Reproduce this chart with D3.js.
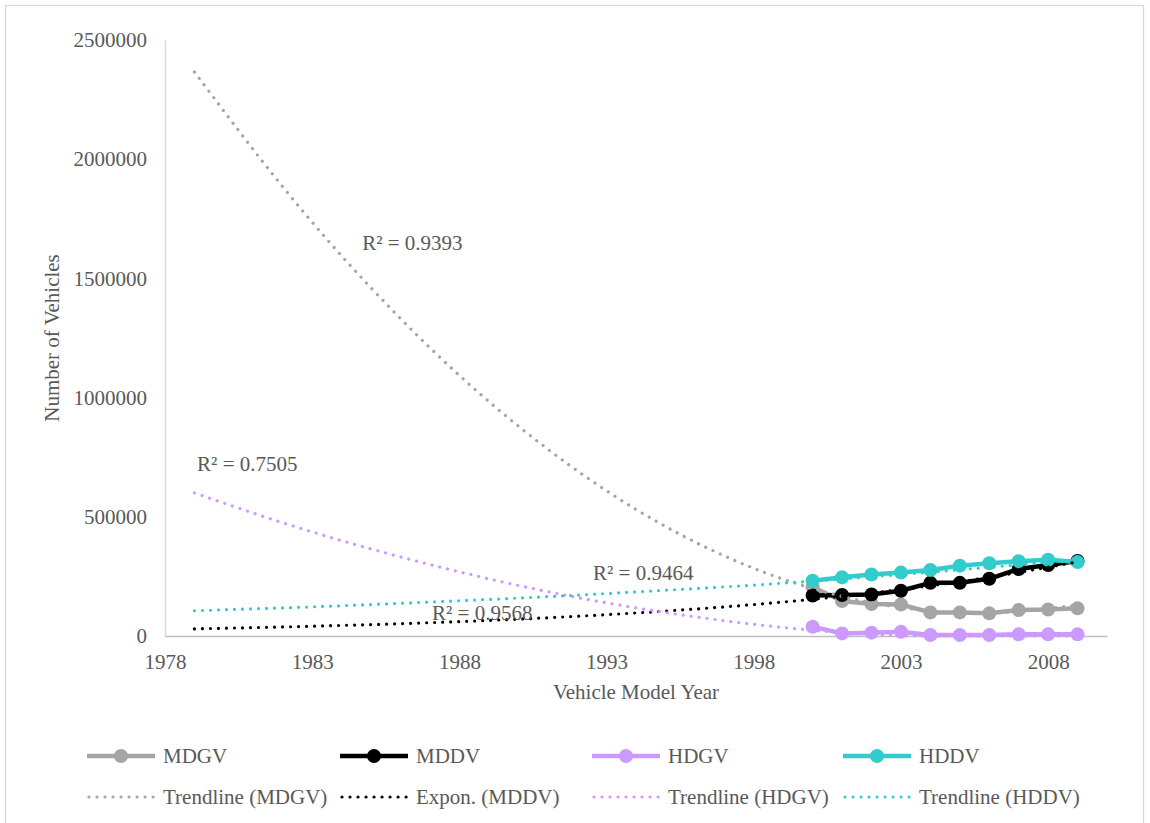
<!DOCTYPE html>
<html>
<head>
<meta charset="utf-8">
<script src="https://cdn.jsdelivr.net/npm/d3@7"></script>
<style>
  body { margin: 0; background: #fff; }
  svg text { font-family: 'Times New Roman', 'Liberation Serif', Times, 'DejaVu Serif', serif !important; fill: #595959; }
</style>
</head>
<body>
<svg id="chart" width="1150" height="823"></svg>
<script>
// Vehicle counts by model year
const years = [2000, 2001, 2002, 2003, 2004, 2005, 2006, 2007, 2008, 2009];
const mdgv  = [205000, 147000, 134000, 132000, 99000, 99000, 95000, 109000, 111000, 116000];
const mddv  = [170000, 172000, 174000, 190000, 223000, 223000, 240000, 281000, 298000, 315000];
const hdgv  = [39000, 11000, 14000, 18000, 4000, 4000, 4000, 7000, 7000, 7000];
const hddv  = [232000, 246000, 258000, 266000, 277000, 295000, 305000, 314000, 320000, 310000];

// Fitted trendlines, backcast to 1979
const trendYears = [1979, 1982, 1985, 1988, 1991, 1994, 1997, 2000, 2003, 2006, 2009];
const trendMDGV  = [2366000, 1884000, 1460000, 1093000, 784000, 531000, 336000, 199000, 119000, 96000, 130000];
const trendMDDV  = [30000, 38000, 48000, 60500, 76500, 96700, 122000, 154000, 195000, 246500, 311000];
const trendHDGV  = [600000, 475000, 365000, 269000, 186000, 118000, 64000, 24000, 2000, 0, 0];
const trendHDDV  = [106000, 118000, 132000, 148000, 165000, 185000, 206000, 230000, 258000, 288000, 321000];

const seriesNames = ["MDGV", "MDDV", "HDGV", "HDDV"];
const trendNames  = ["Trendline (MDGV)", "Expon. (MDDV)", "Trendline (HDGV)", "Trendline (HDDV)"];
const rSquared    = ["R² = 0.9393", "R² = 0.9568", "R² = 0.7505", "R² = 0.9464"];

const xTicks = [1978, 1983, 1988, 1993, 1998, 2003, 2008];
const yTicks = [0, 500000, 1000000, 1500000, 2000000, 2500000];

const colors = ["#a5a5a5", "#000000", "#cc99ff", "#33cccc"];
const seriesValues = [mdgv, mddv, hdgv, hddv];
const trendValues  = [trendMDGV, trendMDDV, trendHDGV, trendHDDV];

// where each R² label sits, in data units (year, count)
const rAnchor = [[1984.7, 1649000], [1987.07, 96500], [1979.09, 721500], [1992.54, 264000]];

const svg = d3.select("#chart");
const FONT = 21;
const SERIF = "'Times New Roman', 'Liberation Serif', Times, 'DejaVu Serif', serif";

// chart frame
svg.append("rect")
  .attr("x", 5.5).attr("y", 5.5).attr("width", 1138).attr("height", 840)
  .attr("fill", "#fff").attr("stroke", "#d9d9d9").attr("stroke-width", 1.3);

const x = d3.scaleLinear().domain([1978, 2010]).range([165, 1107]);
const y = d3.scaleLinear().domain([0, 2500000]).range([636, 40]);

// y axis
const gy = svg.append("g").attr("transform", "translate(165,0)")
  .call(d3.axisLeft(y).tickValues(yTicks).tickSize(0).tickPadding(18).tickFormat(d3.format("d")));
gy.attr("font-family", SERIF).attr("font-size", FONT);
gy.select(".domain").attr("stroke", "#d9d9d9").attr("stroke-width", 1.5);

// x axis
const gx = svg.append("g").attr("transform", "translate(0,636)")
  .call(d3.axisBottom(x).tickValues(xTicks).tickSize(0).tickPadding(18).tickFormat(d3.format("d")));
gx.attr("font-family", SERIF).attr("font-size", FONT);
gx.select(".domain").attr("stroke", "#bfbfbf").attr("stroke-width", 1.5);

// axis titles
svg.append("text").attr("x", 636).attr("y", 699).attr("text-anchor", "middle")
  .attr("font-size", FONT).text("Vehicle Model Year");
svg.append("text").attr("transform", "translate(59,338) rotate(-90)").attr("text-anchor", "middle")
  .attr("font-size", FONT).text("Number of Vehicles");

// data series
const line = d3.line().x((d, i) => x(years[i])).y(d => y(d));
seriesValues.forEach((vals, s) => {
  const g = svg.append("g");
  g.append("path").datum(vals).attr("d", line)
    .attr("fill", "none").attr("stroke", colors[s]).attr("stroke-width", 4.5)
    .attr("stroke-linejoin", "round");
  g.selectAll("circle").data(vals).join("circle")
    .attr("cx", (d, i) => x(years[i])).attr("cy", d => y(d)).attr("r", 7)
    .attr("fill", colors[s]);
});

// trendlines (round-dot)
const trendLine = d3.line().curve(d3.curveNatural)
  .x((d, i) => x(trendYears[i])).y(d => y(d));
trendValues.forEach((vals, s) => {
  svg.append("path").datum(vals).attr("d", trendLine)
    .attr("fill", "none").attr("stroke", colors[s]).attr("stroke-width", 3.2)
    .attr("stroke-linecap", "round").attr("stroke-dasharray", "0.01 8");
});

// R² labels
rSquared.forEach((t, i) => {
  svg.append("text").attr("x", x(rAnchor[i][0])).attr("y", y(rAnchor[i][1]))
    .attr("dy", "0.35em").attr("font-size", FONT).text(t);
});

// legend
const legendX = [87, 340, 592, 843];
const rowY = [756, 797];
const SW = 68;
seriesNames.forEach((name, i) => {
  const g = svg.append("g").attr("transform", `translate(${legendX[i]},${rowY[0]})`);
  g.append("line").attr("x1", 0).attr("x2", SW).attr("stroke", colors[i]).attr("stroke-width", 4.5);
  g.append("circle").attr("cx", SW / 2).attr("r", 7).attr("fill", colors[i]);
  g.append("text").attr("x", SW + 8).attr("dy", "0.35em").attr("font-size", FONT).text(name);
});
trendNames.forEach((name, i) => {
  const g = svg.append("g").attr("transform", `translate(${legendX[i]},${rowY[1]})`);
  g.append("line").attr("x1", 2).attr("x2", SW).attr("stroke", colors[i]).attr("stroke-width", 3.2)
    .attr("stroke-linecap", "round").attr("stroke-dasharray", "0.01 8");
  g.append("text").attr("x", SW + 8).attr("dy", "0.35em").attr("font-size", FONT).text(name);
});

svg.selectAll("text").style("font-family", SERIF);
</script>
</body>
</html>
